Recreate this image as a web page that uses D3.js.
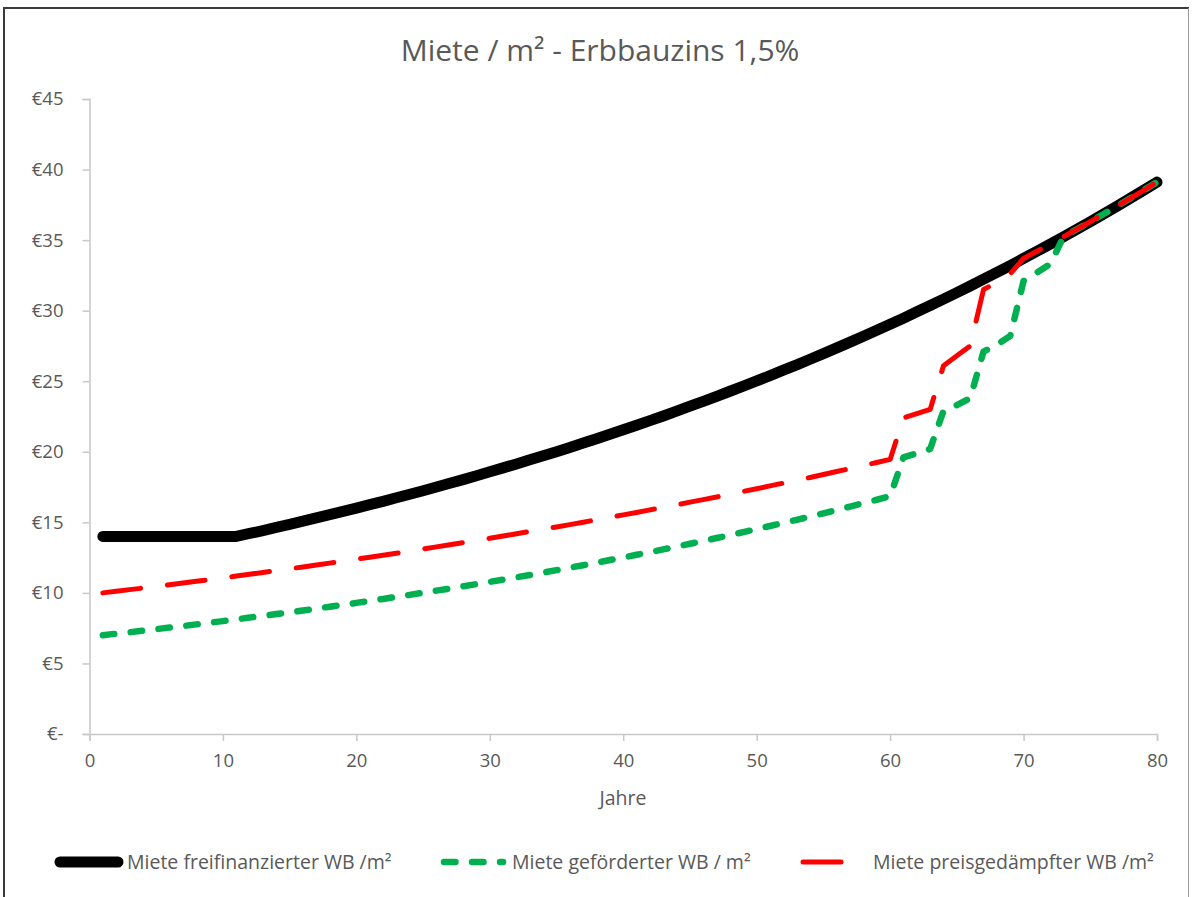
<!DOCTYPE html>
<html><head><meta charset="utf-8">
<script src="https://cdn.jsdelivr.net/npm/d3@7/dist/d3.min.js"></script>
<style>
body{margin:0;background:#fff}
svg{display:block}
text{font-family:"Open Sans",sans-serif;fill:#595959}
</style>
</head><body>
<svg id="chart" width="1192" height="897"></svg>
<script>
const years = [1,2,3,4,5,6,7,8,9,10,11,12,13,14,15,16,17,18,19,20,21,22,23,24,25,26,27,28,29,30,31,32,33,34,35,36,37,38,39,40,41,42,43,44,45,46,47,48,49,50,51,52,53,54,55,56,57,58,59,60,61,62,63,64,65,66,67,68,69,70,71,72,73,74,75,76,77,78,79,80];

const freifinanziert = [14,14,14,14,14,14,14,14,14,14,14,
  14.21,14.42,14.64,14.86,15.08,15.31,15.54,15.77,16.01,16.25,16.49,16.74,16.99,17.24,17.50,17.77,18.03,18.30,18.58,
  18.86,19.14,19.43,19.72,20.01,20.31,20.62,20.93,21.24,21.56,21.88,22.21,22.54,22.88,23.23,23.57,23.93,24.29,24.65,25.02,
  25.40,25.78,26.16,26.56,26.95,27.36,27.77,28.19,28.61,29.04,29.47,29.92,30.36,30.82,31.28,31.75,32.23,32.71,33.20,33.70,
  34.21,34.72,35.24,35.77,36.30,36.85,37.40,37.96,38.53,39.11];

const gefoerdert = [7.00,7.11,7.21,7.32,7.43,7.54,7.65,7.77,7.89,8.00,
  8.12,8.25,8.37,8.50,8.62,8.75,8.89,9.02,9.15,9.29,
  9.43,9.57,9.72,9.86,10.01,10.16,10.31,10.47,10.62,10.78,
  10.94,11.11,11.27,11.44,11.61,11.79,11.96,12.14,12.33,12.51,
  12.70,12.89,13.08,13.28,13.48,13.68,13.89,14.09,14.31,14.52,
  14.74,14.96,15.18,15.41,15.64,15.88,16.12,16.36,16.60,16.85,
  19.6,19.9,20.2,22.9,23.3,23.8,27.1,27.6,28.2,32.1,
  32.7,33.3,35.24,35.77,36.30,36.85,37.40,37.96,38.53,39.11];

const preisgedaempft = [10.00,10.11,10.23,10.34,10.46,10.58,10.70,10.82,10.94,11.07,
  11.19,11.32,11.45,11.58,11.71,11.84,11.97,12.11,12.25,12.39,
  12.53,12.67,12.81,12.96,13.11,13.26,13.41,13.56,13.71,13.87,
  14.03,14.19,14.35,14.51,14.67,14.84,15.01,15.18,15.35,15.53,
  15.70,15.88,16.06,16.24,16.43,16.61,16.80,16.99,17.19,17.38,
  17.58,17.78,17.98,18.18,18.39,18.60,18.81,19.02,19.24,19.46,
  22.4,22.7,23.0,26.1,26.8,27.5,31.5,32.0,32.6,33.70,
  34.21,34.72,35.24,35.77,36.30,36.85,37.40,37.96,38.53,39.11];

const seriesNames = ["Miete freifinanzierter WB /m\u00B2","Miete geförderter WB / m\u00B2","Miete preisgedämpfter WB /m\u00B2"];
const yTicks = [0,5,10,15,20,25,30,35,40,45];
const yTickLabels = ["€-","€5","€10","€15","€20","€25","€30","€35","€40","€45"];
const xTicks = [0,10,20,30,40,50,60,70,80];
const titleText = "Miete / m\u00B2 - Erbbauzins 1,5%";
const xAxisTitle = "Jahre";

const svg = d3.select("#chart");

// frame
svg.append("line").attr("x1",4).attr("x2",4).attr("y1",8).attr("y2",897).attr("stroke","#3a3a3a").attr("stroke-width",2);
svg.append("line").attr("x1",3).attr("x2",1189).attr("y1",8).attr("y2",8).attr("stroke","#3a3a3a").attr("stroke-width",2);
svg.append("line").attr("x1",1188.5).attr("x2",1188.5).attr("y1",8).attr("y2",897).attr("stroke","#9a9a9a").attr("stroke-width",1);

const x = d3.scaleLinear().domain([0,80]).range([89.5,1157]);
const y = d3.scaleLinear().domain([0,45]).range([734,99]);

// title
svg.append("text").attr("x",600).attr("y",61).attr("text-anchor","middle")
  .style("font-size","30px").text(titleText);

// axes
const yAxis = d3.axisLeft(y).tickValues(yTicks).tickSize(7).tickPadding(19)
  .tickFormat((d,i)=>yTickLabels[i]);
const gy = svg.append("g").attr("transform",`translate(${x(0)},0)`).call(yAxis);
gy.select(".domain").attr("stroke","#c8c8c8").attr("stroke-width",1.5);
gy.selectAll(".tick line").attr("stroke","#c8c8c8").attr("stroke-width",1.5);
gy.selectAll("text").style("font-size","18.5px").attr("fill","#595959");

const xAxis = d3.axisBottom(x).tickValues(xTicks).tickSize(7).tickPadding(13);
const gx = svg.append("g").attr("transform",`translate(0,${y(0)})`).call(xAxis);
gx.select(".domain").attr("stroke","#c8c8c8").attr("stroke-width",1.5);
gx.selectAll(".tick line").attr("stroke","#c8c8c8").attr("stroke-width",1.5);
gx.selectAll("text").style("font-size","18.5px").attr("fill","#595959");

svg.append("text").attr("x",623).attr("y",805).attr("text-anchor","middle")
  .style("font-size","19.5px").text(xAxisTitle);

// lines
const styles = [
  {color:"#000000", width:11, dash:null},
  {color:"#00b050", width:6.5, dash:"11.5,16.5"},
  {color:"#ff0000", width:5, dash:"38,27"}
];
const allSeries = [freifinanziert, gefoerdert, preisgedaempft];
const line = d3.line().x((d,i)=>x(years[i])).y(d=>y(d));
allSeries.forEach((s,k)=>{
  const p = svg.append("path").datum(s).attr("d",line)
    .attr("fill","none").attr("stroke",styles[k].color).attr("stroke-width",styles[k].width)
    .attr("stroke-linecap","round").attr("stroke-linejoin","round");
  if(styles[k].dash) p.attr("stroke-dasharray",styles[k].dash);
});

// legend
const legendY = 862;
const legendItems = [
  {x1:60, x2:118, tx:127},
  {x1:444, x2:503, tx:512},
  {x1:803, x2:860, tx:873}
];
legendItems.forEach((it,k)=>{
  const l = svg.append("line").attr("x1",it.x1).attr("x2",it.x2).attr("y1",legendY).attr("y2",legendY)
    .attr("stroke",styles[k].color).attr("stroke-width",styles[k].width).attr("stroke-linecap","round");
  if(styles[k].dash) l.attr("stroke-dasharray",styles[k].dash);
  svg.append("text").attr("x",it.tx).attr("y",legendY+7).style("font-size","19.5px").text(seriesNames[k]);
});
</script>
</body></html>
